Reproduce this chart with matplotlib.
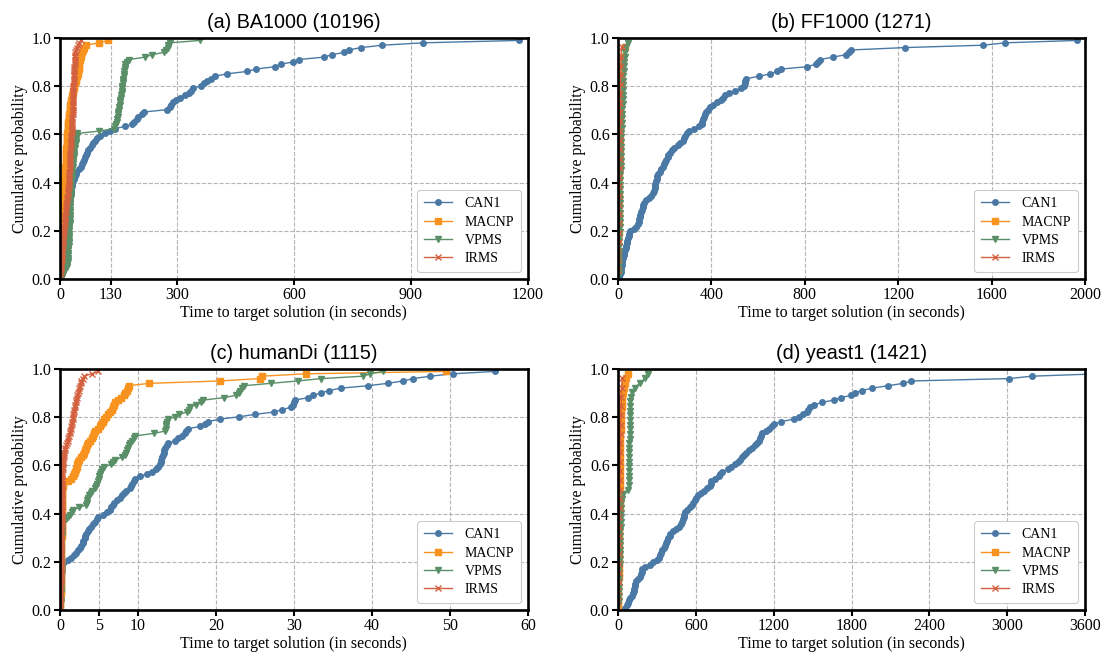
import numpy as np
import matplotlib.pyplot as plt

## run times (seconds) to reach the target, one value per run, sorted
methods = ['CAN1', 'MACNP', 'VPMS', 'IRMS']
colors = ['#4a79a5', '#f7931e', '#5a8f68', '#d3603f']
markers = ['o', 's', 'v', 'x']
msizes = [4.0, 4.4, 4.8, 4.0]

## (a) BA1000
ba_can1 = [0.5, 1, 1.5, 2, 2.5, 3, 3.5, 4, 4.5, 5,
           5.7, 6.4, 7.1, 7.8, 8.5, 9.2, 9.9, 10.6, 11.3, 12,
           12.8, 13.6, 14.4, 15.2, 16, 16.8, 17.6, 18.4, 19.2, 20,
           21.2, 22.4, 23.6, 24.8, 26, 27.2, 28.4, 29.6, 30.8, 32,
           34, 36, 38, 40, 42, 48, 55, 57, 60, 62,
           64, 67, 69, 72, 77, 82, 86, 90, 95, 103,
           115, 128, 140, 168, 185, 190, 197, 200, 210, 216,
           274, 281, 285, 290, 298, 308, 320, 330, 336, 342,
           362, 370, 378, 388, 397, 428, 480, 503, 552, 566,
           598, 612, 677, 697, 729, 740, 772, 827, 932, 1177]
ba_macnp = [0.5, 0.7, 0.9, 1.2, 1.4, 1.6, 1.9, 2.1, 2.3, 2.6,
            2.8, 3, 3.3, 3.5, 3.7, 4, 4.2, 4.4, 4.7, 5,
            5.2, 5.5, 5.7, 6, 6.2, 6.5, 6.7, 7, 7.2, 7.5,
            7.7, 8, 8.2, 8.5, 8.7, 9, 9.2, 9.5, 9.7, 10,
            10.5, 11, 11.5, 12, 12.5, 13, 14, 14.4, 14.8, 15.2,
            15.5, 15.8, 16.2, 16.5, 16.8, 17.2, 17.5, 17.8, 18.2, 18.5,
            19, 19.5, 20, 20.5, 21, 21.5, 22, 23, 23.8, 24.6,
            25.4, 26.2, 27, 27.8, 29, 30, 31.3, 32.6, 34, 35.3,
            36.6, 38, 40, 42, 44, 47, 47.5, 48, 48.5, 49,
            50, 51.5, 53, 54.5, 56, 58, 61, 67, 101, 124]
ba_vpms = [5, 8, 11, 14, 17, 19, 19.5, 20, 20.3, 20.6,
           21, 21.3, 21.6, 22, 22.3, 22.6, 23, 23.3, 23.6, 24,
           24.2, 24.4, 24.6, 24.8, 25, 25.2, 25.4, 25.6, 25.8, 26,
           26.3, 26.6, 26.9, 27.2, 27.5, 27.8, 28.1, 28.4, 28.7, 29,
           29.5, 30, 30.5, 31, 31.5, 32, 33, 33.5, 34, 34.5,
           35, 35.5, 36, 37, 38, 39, 40, 41, 42, 43,
           44, 100, 138, 142, 144, 146, 147, 148, 149, 150,
           151, 152, 153, 154, 155, 156, 157, 158, 158.5, 159,
           160, 161, 161.5, 162, 163, 164, 165, 166, 167, 168,
           172, 178, 218, 236, 266, 272, 276, 278, 282, 359]
ba_irms = [0.5, 1, 1.5, 2, 2.5, 3, 3.5, 4, 4.5, 5,
           5.5, 6, 6.5, 7, 7.5, 8, 8.5, 9, 9.5, 10,
           10.6, 11.2, 11.8, 12.4, 13, 13.6, 14.2, 14.8, 15.4, 16,
           16.7, 17.4, 18.1, 18.8, 19.5, 20.2, 20.9, 21.6, 22.3, 23,
           23.3, 23.6, 23.9, 24.2, 24.5, 24.8, 25.1, 25.4, 25.7, 26,
           26.3, 26.6, 26.8, 27, 27.4, 27.8, 28.2, 28.6, 29, 29.4,
           29.8, 30.2, 30.5, 30.8, 31.1, 31.4, 31.7, 32, 32.2, 32.4,
           32.6, 32.8, 33, 33.2, 33.4, 33.6, 33.8, 34, 34.2, 34.4,
           34.7, 35, 35.3, 35.6, 35.9, 36.2, 36.5, 36.8, 37.1, 37.4,
           37.7, 38, 38.3, 38.7, 39, 41, 43, 46, 49, 53]

## (b) FF1000
ff_can1 = [6, 9, 11, 12.5, 13.5, 15, 16.5, 18.6, 21, 24,
           27, 30, 32.5, 35, 38, 40, 43, 46, 49, 52,
           68, 78, 85, 88, 91, 94, 96, 99, 102, 105,
           108, 112, 121, 132, 142, 148, 154, 157, 158.5, 160,
           162, 165, 168, 172, 178, 185, 191, 198, 203, 207,
           212, 216, 221, 230, 241, 256, 266, 277, 283, 288,
           295, 304, 325, 347, 358, 361, 365, 368, 372, 376,
           385, 395, 408, 423, 440, 448, 457, 476, 500, 526,
           541, 542, 543, 550, 605, 652, 680, 700, 810, 846,
           856, 866, 920, 975, 988, 998, 1227, 1565, 1658, 1965]
ff_macnp = [0.5, 1, 1.5, 2, 2.5, 3, 3.5, 4, 4.5, 5, 5.5, 6, 6.5,
            7, 7.5, 8, 8.5, 9, 9.5, 10, 11, 12, 14, 20, 28]
ff_vpms = [3, 3.5, 4, 4.3, 4.6, 5, 5.3, 5.6, 6, 6.3,
           6.6, 7, 7.3, 7.6, 8, 8.3, 8.6, 9, 9.3, 9.6,
           10, 10.3, 10.6, 11, 11.3, 11.6, 12, 12.3, 12.6, 13,
           13.5, 17, 17.5, 18, 18.5, 19, 19.5, 20, 20.5, 21,
           21.5, 22, 23, 24, 25, 26, 28, 30, 35, 44]
ff_irms = [1, 1.5, 2, 2.5, 3, 3.5, 4, 4.5, 5, 5.5, 6, 6.5, 7,
           7.5, 8, 8.5, 9, 9.5, 10, 10.5, 11, 11.5, 12, 13, 15]

## (c) humanDi
hd_can1 = [0.05, 0.06, 0.07, 0.08, 0.09, 0.1, 0.11, 0.12, 0.13, 0.14,
           0.15, 0.16, 0.17, 0.18, 0.19, 0.2, 0.22, 0.25, 0.3, 0.5,
           1.0, 1.4, 1.8, 2.0, 2.3, 2.6, 2.75, 2.9, 3.0, 3.15,
           3.25, 3.4, 3.6, 3.75, 4.0, 4.2, 4.45, 4.7, 4.9, 5.5,
           6.0, 6.4, 6.6, 6.8, 6.9, 7.3, 7.7, 8.0, 8.2, 8.5,
           8.95, 9.1, 9.25, 9.45, 9.6, 10.3, 11.2, 11.8, 12.3, 12.6,
           12.8, 12.9, 13.0, 13.1, 13.25, 13.35, 13.4, 13.5, 13.7, 13.9,
           14.8, 15.2, 15.7, 16.0, 16.2, 16.45, 18.0, 18.6, 19.0, 20.5,
           23.0, 25.0, 27.5, 28.5, 29.6, 29.85, 30.0, 30.15, 31.8, 32.5,
           33.5, 34.5, 36.0, 39.5, 42.0, 44.0, 45.25, 47.5, 50.35, 55.8]
hd_macnp = [0.05, 0.05, 0.06, 0.06, 0.07, 0.07, 0.08, 0.08, 0.09, 0.09,
            0.1, 0.1, 0.11, 0.11, 0.12, 0.12, 0.13, 0.13, 0.14, 0.14,
            0.15, 0.15, 0.16, 0.16, 0.17, 0.17, 0.18, 0.18, 0.19, 0.19,
            0.2, 0.2, 0.21, 0.21, 0.22, 0.22, 0.23, 0.23, 0.24, 0.24,
            0.25, 0.25, 0.26, 0.26, 0.27, 0.27, 0.28, 0.28, 0.29, 0.29,
            0.3, 0.35, 0.45, 1.0, 1.4, 1.65, 1.8, 1.95, 2.05, 2.15,
            2.25, 2.35, 2.45, 2.7, 2.95, 3.1, 3.2, 3.35, 3.5, 3.65,
            3.85, 4.05, 4.2, 4.35, 4.5, 4.85, 5.15, 5.3, 5.5, 5.65,
            5.95, 6.2, 6.45, 6.65, 6.8, 6.95, 7.1, 7.45, 7.8, 8.2,
            8.4, 8.55, 8.7, 8.85, 11.4, 20.5, 25.6, 25.9, 31.5, 49.5]
hd_vpms = [0.05, 0.05, 0.06, 0.06, 0.07, 0.07, 0.08, 0.08, 0.09, 0.09,
           0.1, 0.1, 0.11, 0.11, 0.12, 0.12, 0.13, 0.13, 0.14, 0.14,
           0.15, 0.15, 0.16, 0.16, 0.17, 0.17, 0.18, 0.18, 0.19, 0.19,
           0.2, 0.2, 0.21, 0.22, 0.25, 0.3, 0.43, 0.8, 1.07, 1.3,
           1.5, 1.7, 2.5, 3.3, 3.45, 3.5, 3.6, 3.75, 3.95, 4.15,
           4.5, 4.6, 4.75, 4.85, 4.95, 5.05, 5.12, 5.25, 5.4, 5.7,
           6.5, 6.75, 7.0, 8.0, 8.3, 8.5, 8.6, 8.7, 8.85, 9.0,
           9.25, 9.45, 9.65, 12.0, 13.5, 13.55, 13.6, 13.65, 13.7, 13.9,
           14.8, 15.3, 16.3, 16.5, 16.65, 17.5, 18.15, 18.4, 21.0, 22.6,
           22.95, 23.1, 23.3, 23.6, 27.0, 30.5, 33.5, 38.9, 39.8, 41.4]
hd_irms = [0.03, 0.03, 0.04, 0.04, 0.05, 0.05, 0.06, 0.06, 0.07, 0.07,
           0.08, 0.08, 0.09, 0.09, 0.1, 0.1, 0.11, 0.11, 0.12, 0.12,
           0.13, 0.13, 0.14, 0.14, 0.15, 0.15, 0.16, 0.16, 0.17, 0.17,
           0.18, 0.18, 0.19, 0.19, 0.2, 0.2, 0.21, 0.21, 0.22, 0.22,
           0.23, 0.23, 0.24, 0.24, 0.25, 0.25, 0.26, 0.26, 0.27, 0.27,
           0.28, 0.28, 0.29, 0.29, 0.3, 0.3, 0.31, 0.32, 0.33, 0.35,
           0.38, 0.42, 0.45, 0.5, 0.54, 0.58, 0.64, 0.7, 0.8, 0.9,
           0.98, 1.08, 1.17, 1.25, 1.3, 1.37, 1.44, 1.5, 1.55, 1.62,
           1.68, 1.72, 1.78, 1.85, 1.91, 1.97, 2.03, 2.1, 2.16, 2.25,
           2.32, 2.38, 2.46, 2.54, 2.64, 2.75, 2.9, 3.1, 4.06, 4.83]

## (d) yeast1
ye_can1 = [50, 68, 78, 87, 95, 104, 113, 120, 125, 130,
           134, 140, 157, 172, 180, 184, 187, 205, 243, 270,
           298, 314, 321, 330, 342, 353, 362, 371, 380, 389,
           397, 401, 424, 445, 470, 485, 495, 503, 508, 512,
           515, 530, 558, 570, 580, 590, 603, 617, 636, 660,
           685, 707, 714, 720, 750, 778, 788, 800, 850, 873,
           900, 928, 941, 955, 968, 986, 1006, 1030, 1056, 1075,
           1090, 1096, 1102, 1110, 1138, 1165, 1185, 1205, 1260, 1355,
           1395, 1425, 1456, 1465, 1480, 1512, 1570, 1662, 1720, 1796,
           1830, 1880, 1960, 2080, 2200, 2260, 3015, 3190, 3700, 3900]
ye_macnp = [1, 1.5, 2, 2.5, 3, 3.5, 4, 4.5, 5, 5.5,
            6, 6.5, 7, 7.5, 8, 8.5, 9, 9.5, 10, 10.5,
            11, 11.5, 12, 12.5, 13, 13.5, 14, 14.5, 15, 15.5,
            16, 16.5, 17, 17.5, 18, 18.5, 19, 19.5, 20, 20.5,
            22, 24, 27, 30, 34, 38, 44, 50, 60, 77]
ye_vpms = [3, 4, 5, 6, 7, 8, 9, 10, 11, 12,
           13, 14, 15, 16, 17, 18, 19, 20, 21, 22,
           23, 24, 26, 30, 38, 75, 82, 84, 84.5, 85,
           85.5, 86, 86.5, 87, 87.5, 88, 88.5, 89, 89.5, 90,
           91, 92, 93, 94, 96, 100, 106, 130, 170, 210, 232]
ye_irms = [2, 3, 4, 5, 6, 7, 8, 9, 10, 11, 12, 13, 14,
           15, 16, 17, 18, 19, 20, 21, 22, 24, 26, 28, 32]

panels = [
    ('(a) BA1000 (10196)', [ba_can1, ba_macnp, ba_vpms, ba_irms],
     1200, [0, 130, 300, 600, 900, 1200]),
    ('(b) FF1000 (1271)', [ff_can1, ff_macnp, ff_vpms, ff_irms],
     2000, [0, 400, 800, 1200, 1600, 2000]),
    ('(c) humanDi (1115)', [hd_can1, hd_macnp, hd_vpms, hd_irms],
     60, [0, 5, 10, 20, 30, 40, 50, 60]),
    ('(d) yeast1 (1421)', [ye_can1, ye_macnp, ye_vpms, ye_irms],
     3600, [0, 600, 1200, 1800, 2400, 3000, 3600]),
]

## axes boxes in figure fractions (left, bottom, width, height)
boxes = [(0.0542, 0.5753, 0.4231, 0.3668), (0.5588, 0.5753, 0.4222, 0.3668),
         (0.0542, 0.0715, 0.4231, 0.3668), (0.5588, 0.0715, 0.4222, 0.3668)]

serif = 'Liberation Serif'
fig = plt.figure(figsize=(11.06, 6.57), dpi=100)

for (title, series, xmax, xticks), box in zip(panels, boxes):
    ax = fig.add_axes(box)
    for name, times, c, m, ms in zip(methods, series, colors, markers, msizes):
        t = np.sort(np.array(times, dtype=float))
        p = np.arange(1, len(t) + 1) / (len(t) + 1)
        ax.plot(t, p, color=c, marker=m, markersize=ms, linewidth=1.0,
                markeredgewidth=1.0, label=name)
    ax.set_xlim(0, xmax)
    ax.set_ylim(0, 1)
    ax.set_xticks(xticks)
    ax.set_yticks(np.arange(0, 1.01, 0.2))
    ax.set_yticklabels(['%.1f' % v for v in np.arange(0, 1.01, 0.2)])
    ax.grid(True, linestyle='--', color='#b5b5b5', linewidth=0.8)
    ax.set_axisbelow(True)
    for s in ax.spines.values():
        s.set_linewidth(1.9)
    ax.tick_params(direction='out', length=4, width=1.5, labelsize=11.5, pad=2)
    for lab in ax.get_xticklabels() + ax.get_yticklabels():
        lab.set_fontfamily(serif)
    ax.set_xlabel('Time to target solution (in seconds)', fontfamily=serif,
                  fontsize=11.5, labelpad=1)
    ax.set_ylabel('Cumulative probability', fontfamily=serif, fontsize=11.5,
                  labelpad=3)
    ax.set_title(title, fontfamily='Liberation Sans', fontsize=14.2, pad=7)
    leg = ax.legend(loc='lower right', prop={'family': serif, 'size': 10},
                    handlelength=2.0, borderpad=0.5, labelspacing=0.38,
                    handletextpad=0.9, framealpha=1.0, edgecolor='#cccccc',
                    fancybox=True)
    leg.get_frame().set_linewidth(0.8)

fig.savefig('out.png', dpi=100)
